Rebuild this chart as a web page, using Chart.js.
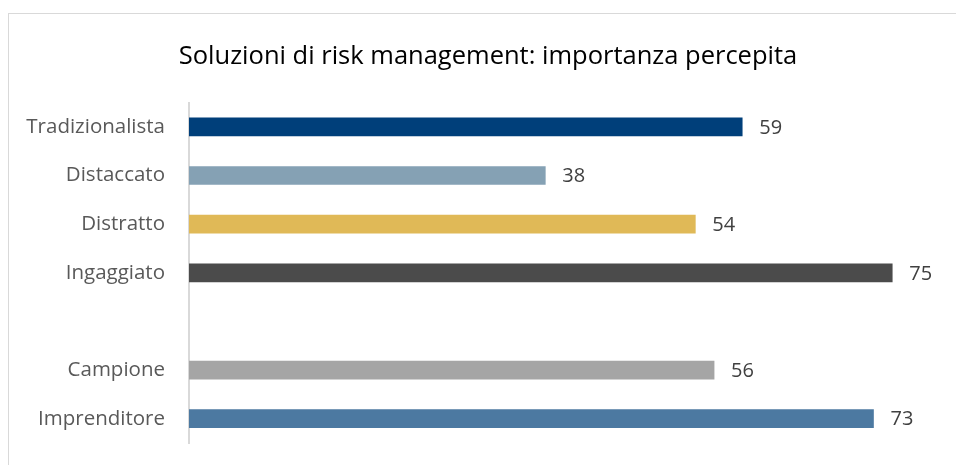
<!DOCTYPE html>
<html>
<head>
<meta charset="utf-8">
<script src="https://cdn.jsdelivr.net/npm/chart.js@4"></script>
<style>
    html, body { margin: 0; padding: 0; background: #fff; overflow: hidden; }
    #frame { position: absolute; left: 8px; top: 13px; width: 960px; height: 470px; border: 1px solid #d9d9d9; }
    #wrap { position: absolute; left: 0; top: 0; width: 956px; height: 465px; }
</style>
</head>
<body>
<div id="frame"></div>
<div id="wrap"><canvas id="myChart" width="956" height="465"></canvas></div>
<script>
// DATA
const categories = ['Tradizionalista', 'Distaccato', 'Distratto', 'Ingaggiato', '', 'Campione', 'Imprenditore'];
const values = [59, 38, 54, 75, null, 56, 73];
const barColors = ['#003f7a', '#85a1b4', '#e0b957', '#4b4b4b', '#ffffff', '#a5a5a5', '#4c79a1'];
const chartTitle = 'Soluzioni di risk management: importanza percepita';

const fontFamily = "'Open Sans', sans-serif";

// value labels next to the bars
const valueLabels = {
    id: 'valueLabels',
    afterDatasetsDraw(chart) {
        const ctx = chart.ctx;
        const meta = chart.getDatasetMeta(0);
        ctx.save();
        ctx.font = '20px ' + fontFamily;
        ctx.fillStyle = '#404040';
        ctx.textAlign = 'left';
        ctx.textBaseline = 'middle';
        meta.data.forEach((bar, i) => {
            if (values[i] === null) return;
            ctx.fillText(values[i], bar.x + 17, bar.y + 1);
        });
        ctx.restore();
    }
};

const chart = document.querySelector('#myChart').getContext('2d');
const myChart = new Chart(chart, {
    type: 'bar',
    data: {
        labels: categories,
        datasets: [{
            data: values,
            backgroundColor: barColors,
            barThickness: 18
        }]
    },
    options: {
        indexAxis: 'y',
        responsive: false,
        animation: false,
        layout: { padding: { left: 20, right: 0, top: 0, bottom: 22 } },
        plugins: {
            legend: { display: false },
            tooltip: { enabled: false },
            title: {
                display: true,
                text: chartTitle,
                color: '#000000',
                font: { family: fontFamily, size: 25.5, weight: 'normal' },
                padding: { top: 41, bottom: 31 }
            }
        },
        scales: {
            x: {
                display: false,
                min: 0,
                max: 81.8
            },
            y: {
                afterFit(scale) {
                    scale.width = 169;
                    scale.paddingTop = 0;
                    scale.paddingBottom = 0;
                },
                grid: { display: false, drawTicks: false },
                border: { display: true, color: '#d9d9d9', width: 2 },
                ticks: {
                    color: '#595959',
                    padding: 24,
                    font: { family: fontFamily, size: 20.5 }
                }
            }
        }
    },
    plugins: [valueLabels]
});
</script>
</body>
</html>
